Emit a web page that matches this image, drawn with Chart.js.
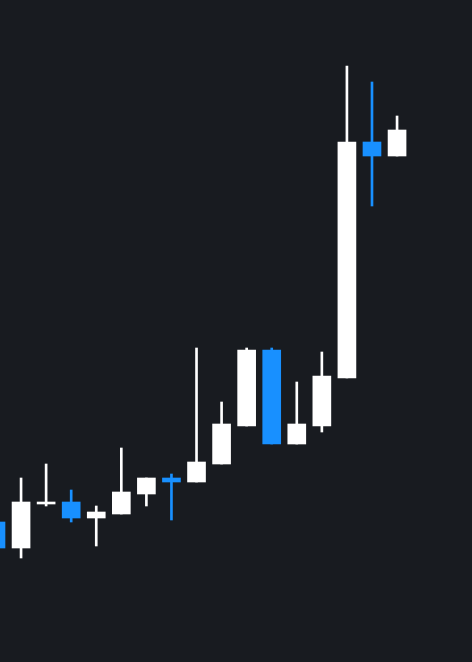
<!DOCTYPE html>
<html>
<head>
<meta charset="utf-8">
<script src="https://cdn.jsdelivr.net/npm/chart.js@4/dist/chart.umd.min.js"></script>
<style>
    html, body { margin: 0; padding: 0; background: #181b20; }
    #wrap { width: 472px; height: 662px; }
</style>
</head>
<body>
<div id="wrap"><canvas id="chart"></canvas></div>
<script>
// candle data (prices are estimated)
const opens  = [34.0, 31.4, 35.8, 36.0, 34.4, 34.8, 36.8, 38.4, 38.0, 39.8, 43.6, 51.2, 41.8, 43.6, 48.4, 72.0, 70.6]
const highs  = [34.6, 38.4, 39.8, 37.2, 35.6, 41.4, 38.4, 38.8, 51.4, 46.0, 51.4, 51.4, 48.0, 51.0, 79.6, 78.0, 74.6]
const lows   = [30.8, 30.4, 35.6, 34.0, 31.6, 34.8, 35.6, 34.2, 38.0, 39.8, 43.6, 41.8, 41.8, 43.0, 48.4, 65.6, 70.6]
const closes = [31.4, 36.0, 36.0, 34.4, 35.0, 37.0, 38.4, 38.0, 40.0, 43.8, 51.2, 41.8, 43.8, 48.6, 72.0, 70.6, 73.2]

const upColor = "#ffffff"
const downColor = "#1890ff"

let colors = opens.map((o, i) => closes[i] >= o ? upColor : downColor)
let wicks = highs.map((h, i) => ({x: i, y: [lows[i], h]}))
let bodies = opens.map((o, i) => ({x: i, y: [o, closes[i]]}))

window.onload = () => {
    new Chart(document.getElementById("chart"), {
        type: 'bar',
        data: {
            datasets: [
                {
                    data: wicks,
                    backgroundColor: colors,
                    barThickness: 2,
                    grouped: false,
                    order: 2
                },
                {
                    data: bodies,
                    backgroundColor: colors,
                    barThickness: 18,
                    grouped: false,
                    order: 1
                }
            ]
        },
        options: {
            responsive: true,
            maintainAspectRatio: false,
            animation: false,
            layout: { padding: 0 },
            plugins: {
                legend: { display: false },
                tooltip: { enabled: false }
            },
            scales: {
                x: { type: 'linear', min: 0.16, max: 18.99, offset: false, display: false },
                y: { min: 20, max: 86.2, display: false }
            }
        }
    })
}
</script>
</body>
</html>
